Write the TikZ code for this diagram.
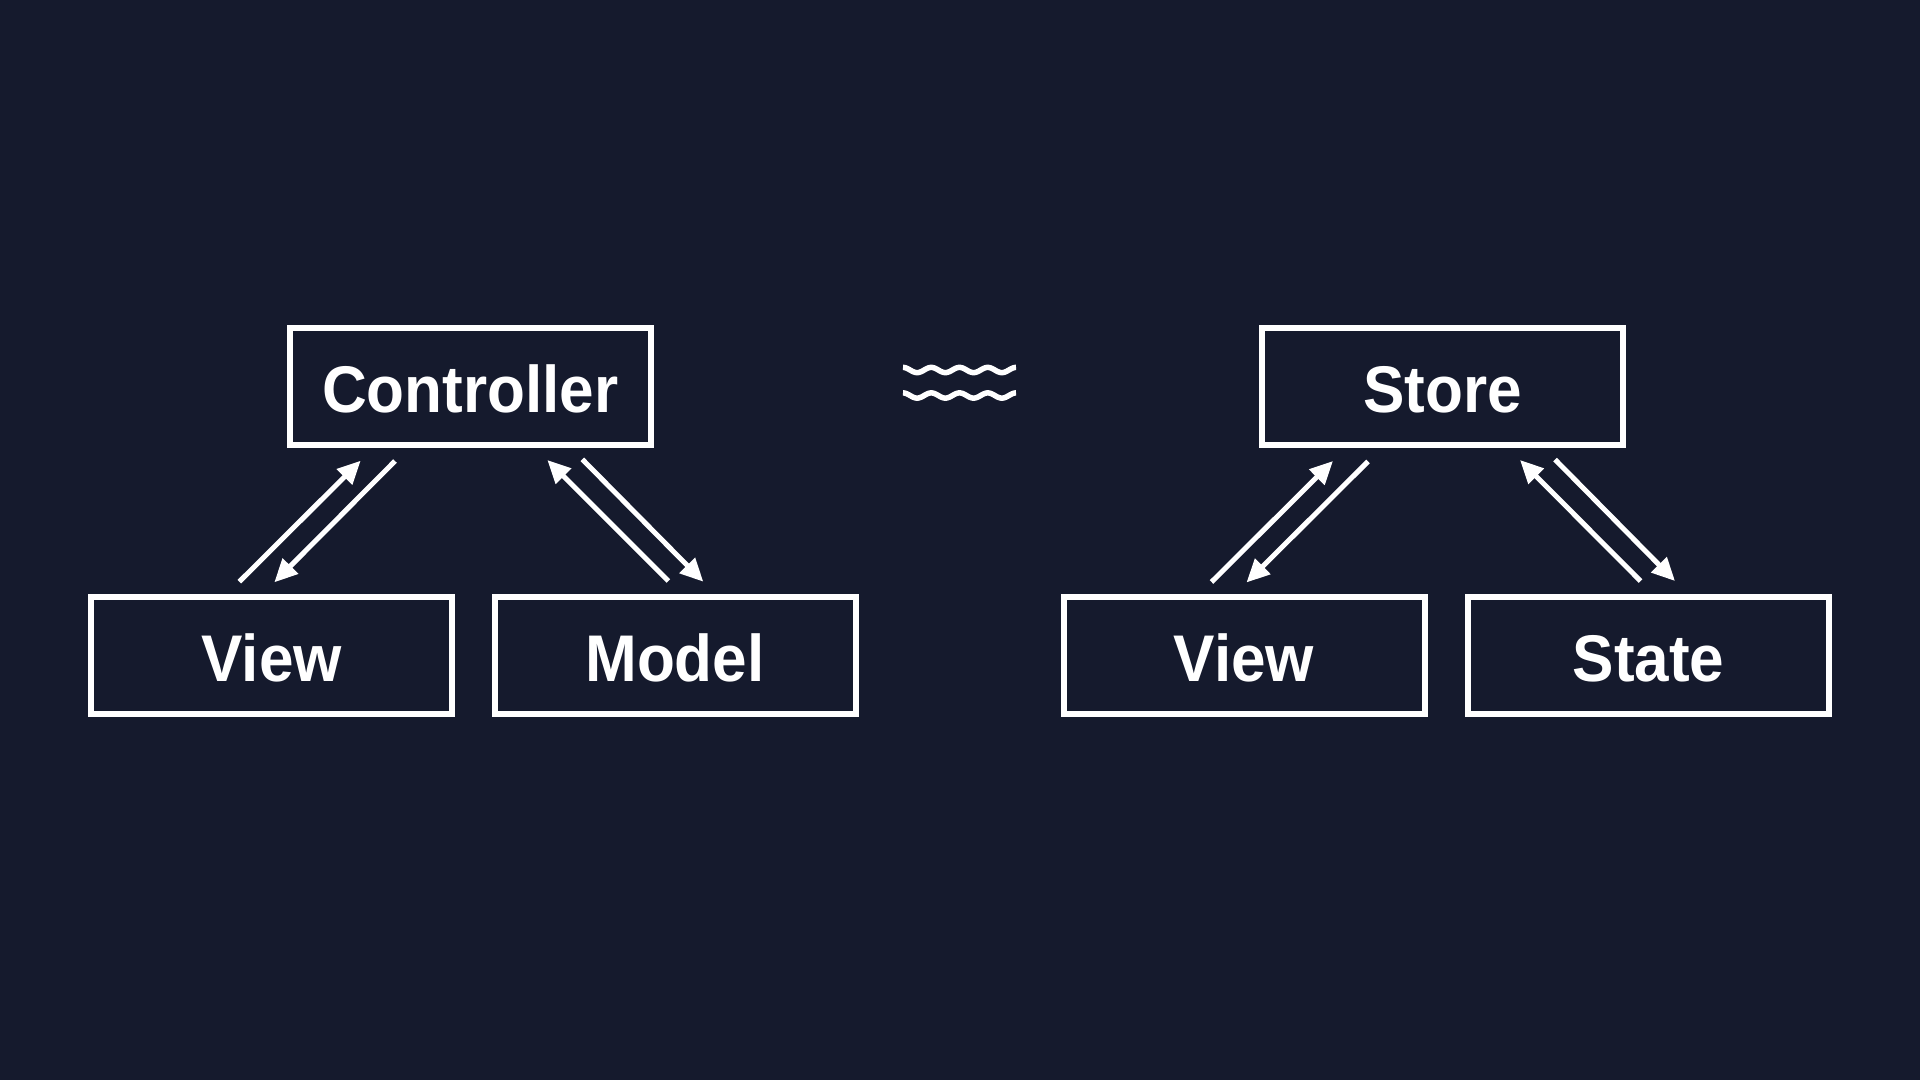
\documentclass[tikz,border=0pt]{standalone}
\usepackage{fontspec}
\setmainfont{Liberation Sans}[FakeStretch=0.94]
\usetikzlibrary{arrows.meta}
\definecolor{bgc}{HTML}{151A2D}
\begin{document}
\begin{tikzpicture}[x=1pt,y=-1pt,
  box/.style={draw=white, line width=6pt, fill=bgc, minimum width=361pt, minimum height=117pt,
    inner sep=0pt, text=white, text height=52pt, text depth=0pt,
    font=\fontsize{66}{70}\selectfont\bfseries},
  conn/.style={draw=white, line width=5pt, -{Triangle[length=23pt,width=21pt]}},
  wave/.style={draw=white, line width=5.5pt}]
\fill[bgc] (0,0) rectangle (1920,1080);
\useasboundingbox (0,0) rectangle (1920,1080);
% left diagram
\node[box] (ctrl) at (470.3,386.5) {Controller};
\node[box] (viewl) at (271.7,655) {View};
\node[box] (model) at (675,655) {Model};
% right diagram
\node[box] (store) at (1442.5,386.5) {Store};
\node[box] (viewr) at (1244,655) {View};
\node[box] (state) at (1648.5,655) {State};
% arrow end points
\coordinate (l1s) at (239.3,581.7); \coordinate (l1e) at (360.7,460.7);
\coordinate (l2s) at (395,461);     \coordinate (l2e) at (274.3,582.3);
\coordinate (l3s) at (668.3,581);   \coordinate (l3e) at (547.3,460);
\coordinate (l4s) at (582.3,459.3); \coordinate (l4e) at (703.3,581.7);
\coordinate (r1s) at (1211.5,582); \coordinate (r1e) at (1333,461);
\coordinate (r2s) at (1368,461.5); \coordinate (r2e) at (1246.5,582.5);
\coordinate (r3s) at (1640.5,581); \coordinate (r3e) at (1520,460);
\coordinate (r4s) at (1555,459.5); \coordinate (r4e) at (1675,581);
\draw[conn] (l1s) -- (l1e);
\draw[conn] (l2s) -- (l2e);
\draw[conn] (l3s) -- (l3e);
\draw[conn] (l4s) -- (l4e);
\draw[conn] (r1s) -- (r1e);
\draw[conn] (r2s) -- (r2e);
\draw[conn] (r3s) -- (r3e);
\draw[conn] (r4s) -- (r4e);
% approximately-equal wavy sign
\draw[wave] plot[domain=0:113, samples=120, smooth] ({903+\x}, {370-2.6*cos(\x/28.25*360)});
\draw[wave] plot[domain=0:113, samples=120, smooth] ({903+\x}, {395.5-2.6*cos(\x/28.25*360)});
\end{tikzpicture}
\end{document}
